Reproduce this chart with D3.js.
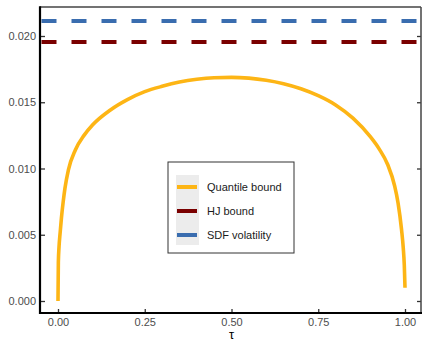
<!DOCTYPE html>
<html>
<head>
<meta charset="utf-8">
<script src="https://cdn.jsdelivr.net/npm/d3@7"></script>
<style>
  body { margin: 0; background: #fff; }
  text { font-family: "Liberation Sans", Arial, sans-serif; }
</style>
</head>
<body>
<div id="chart"></div>
<script>
// quantile levels and the quantile bound
const tau = [0, 0.001, 0.003, 0.006, 0.01, 0.015, 0.02, 0.03, 0.05, 0.075, 0.1, 0.15, 0.2, 0.25, 0.3, 0.35, 0.4,
  0.45, 0.5, 0.55, 0.6, 0.65, 0.7, 0.75, 0.8, 0.85, 0.9, 0.925, 0.95, 0.97, 0.98, 0.99, 0.995, 0.998, 1];
const quantileBound = [0.0000, 0.0029, 0.0041, 0.0051, 0.0063, 0.0075, 0.0085, 0.0099, 0.0114, 0.0125, 0.0133,
  0.0144, 0.0152, 0.0158, 0.0162, 0.01652, 0.01673, 0.01685, 0.01688, 0.01682, 0.01666, 0.0164, 0.01602, 0.0155,
  0.0148, 0.0138, 0.0124, 0.0115, 0.0103, 0.0087, 0.0074, 0.0054, 0.0040, 0.0027, 0.0010];
const hjBound = 0.01955;
const sdfVolatility = 0.02113;

const legendNames = ['Quantile bound', 'HJ bound', 'SDF volatility'];
const legendColors = ['#FDB515', '#7A0000', '#3A6DAF'];

const xTicks = [0, 0.25, 0.5, 0.75, 1];
const yTicks = [0, 0.005, 0.01, 0.015, 0.02];

const width = 422, height = 341;
const panel = { left: 40, right: 421, top: 7, bottom: 313 };

const svg = d3.select('#chart').append('svg')
  .attr('width', width)
  .attr('height', height);

const x = d3.scaleLinear().domain([0, 1]).range([58, 405]);
const y = d3.scaleLinear().domain([0, 0.02]).range([301, 36]);

// dashed horizontal bounds
const hlines = [
  { v: sdfVolatility, c: legendColors[2] },
  { v: hjBound, c: legendColors[1] }
];
svg.selectAll('line.hline')
  .data(hlines)
  .enter()
  .append('line')
  .attr('class', 'hline')
  .attr('x1', panel.left + 1.5)
  .attr('x2', panel.right)
  .attr('y1', d => y(d.v))
  .attr('y2', d => y(d.v))
  .attr('stroke', d => d.c)
  .attr('stroke-width', 4)
  .attr('stroke-dasharray', '15,15');

// quantile bound curve
const pts = tau.map((t, i) => [t, quantileBound[i]]);
svg.append('path')
  .datum(pts)
  .attr('fill', 'none')
  .attr('stroke', legendColors[0])
  .attr('stroke-width', 3.6)
  .attr('d', d3.line().x(d => x(d[0])).y(d => y(d[1])).curve(d3.curveMonotoneX));

// axes with inward ticks
const fmtY = d3.format('.3f');
const fmtX = d3.format('.2f');

const yAxis = svg.append('g')
  .attr('transform', 'translate(' + panel.left + ',0)')
  .call(d3.axisLeft(y).tickValues(yTicks).tickSize(-5).tickPadding(4).tickFormat(fmtY));
const yAxisR = svg.append('g')
  .attr('transform', 'translate(' + panel.right + ',0)')
  .call(d3.axisRight(y).tickValues(yTicks).tickSize(-4).tickFormat(''));
const xAxis = svg.append('g')
  .attr('transform', 'translate(0,' + panel.bottom + ')')
  .call(d3.axisBottom(x).tickValues(xTicks).tickSize(-4).tickPadding(5).tickFormat(fmtX));

[yAxis, yAxisR, xAxis].forEach(g => {
  g.select('.domain').remove();
  g.selectAll('.tick line').attr('stroke', '#333').attr('stroke-width', 1.3);
  g.selectAll('.tick text')
    .attr('fill', '#4d4d4d')
    .style('font-size', '11px')
    .style('font-family', '"Liberation Sans", Arial, sans-serif');
});

// panel border: thin grey top/right, heavy black left/bottom
svg.append('line')
  .attr('x1', panel.left).attr('x2', panel.right)
  .attr('y1', panel.top).attr('y2', panel.top)
  .attr('stroke', '#444').attr('stroke-width', 1.5);
svg.append('line')
  .attr('x1', panel.right).attr('x2', panel.right)
  .attr('y1', panel.top).attr('y2', panel.bottom)
  .attr('stroke', '#444').attr('stroke-width', 1.5);
svg.append('line')
  .attr('x1', panel.left).attr('x2', panel.left)
  .attr('y1', panel.top - 0.75).attr('y2', panel.bottom + 1)
  .attr('stroke', '#000').attr('stroke-width', 2.2);
svg.append('line')
  .attr('x1', panel.left - 1).attr('x2', panel.right + 1)
  .attr('y1', panel.bottom).attr('y2', panel.bottom)
  .attr('stroke', '#000').attr('stroke-width', 2.2);

// x axis title
svg.append('text')
  .attr('x', x(0.5))
  .attr('y', 339)
  .attr('text-anchor', 'middle')
  .style('font-size', '13px')
  .attr('fill', '#000')
  .text('τ');

// legend
const legend = svg.append('g').attr('transform', 'translate(168,162)');
legend.append('rect')
  .attr('x', 0).attr('y', 0)
  .attr('width', 126).attr('height', 91)
  .attr('fill', '#fff')
  .attr('stroke', '#333')
  .attr('stroke-width', 1);
legend.append('rect')
  .attr('x', 8).attr('y', 13)
  .attr('width', 23).attr('height', 70)
  .attr('fill', '#ececec');

const rows = legend.selectAll('g.row')
  .data(legendNames)
  .enter()
  .append('g')
  .attr('class', 'row')
  .attr('transform', (d, i) => 'translate(0,' + (25 + i * 24) + ')');
rows.append('line')
  .attr('x1', 9).attr('x2', 29)
  .attr('y1', 0).attr('y2', 0)
  .attr('stroke', (d, i) => legendColors[i])
  .attr('stroke-width', 4);
rows.append('text')
  .attr('x', 39)
  .attr('y', 4)
  .style('font-size', '11px')
  .attr('fill', '#1a1a1a')
  .text(d => d);
</script>
</body>
</html>
